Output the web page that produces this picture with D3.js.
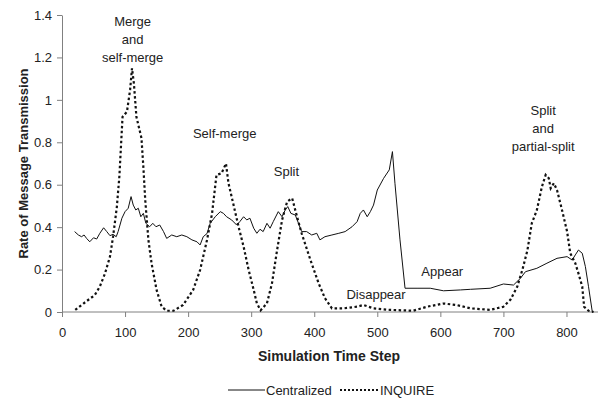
<!DOCTYPE html>
<html>
<head>
<meta charset="utf-8">
<script src="https://cdn.jsdelivr.net/npm/d3@7"></script>
<style>
  body { margin: 0; background: #fff; }
  svg text { font-family: Arial, "Liberation Sans", sans-serif; fill: #222; }
  .axis path, .axis line { stroke: #808080; }
  .axis text { font-size: 13px; }
  .note { font-size: 13px; }
</style>
</head>
<body>
<div id="chart"></div>
<script>
// Centralized (solid): [time step, rate]
var centralized = [
  [20, 0.379], [26, 0.363], [31, 0.355], [35, 0.363], [39, 0.347], [44, 0.331], [50, 0.35],
  [55, 0.344], [60, 0.371], [66, 0.397], [71, 0.379], [76, 0.36], [81, 0.366], [86, 0.355],
  [89, 0.379], [95, 0.442], [100, 0.473], [105, 0.489], [109.5, 0.544], [113, 0.504],
  [117, 0.481], [121, 0.489], [125, 0.449], [129, 0.465], [133, 0.418], [139, 0.402],
  [144, 0.418], [149, 0.402], [155, 0.41], [161, 0.379], [166, 0.347], [174, 0.363],
  [182, 0.355], [190, 0.363], [198, 0.355], [206, 0.34], [214, 0.331], [219, 0.316],
  [224, 0.355], [230, 0.37], [235, 0.418], [243, 0.449], [251, 0.473], [256, 0.465],
  [261, 0.449], [269, 0.434], [277, 0.41], [282, 0.426], [288, 0.449], [293, 0.434],
  [298, 0.442], [304, 0.395], [309, 0.371], [314, 0.39], [319, 0.379], [325, 0.418],
  [330, 0.395], [335, 0.426], [343, 0.473], [349, 0.449], [354, 0.481], [358, 0.497],
  [363, 0.465], [370, 0.457], [375, 0.418], [380, 0.379], [388, 0.379], [396, 0.363],
  [404, 0.371], [409, 0.34], [417, 0.355], [428, 0.363], [439, 0.371], [449, 0.379],
  [460, 0.402], [468, 0.426], [473, 0.465], [478, 0.481], [484, 0.449], [489, 0.473],
  [494, 0.504], [500, 0.575], [510, 0.63], [519, 0.67], [524, 0.756], [528, 0.607],
  [536, 0.34], [544, 0.112], [563, 0.112], [584, 0.112], [605, 0.10], [632, 0.104],
  [648, 0.107], [679, 0.112], [700, 0.132], [716, 0.127], [727, 0.159], [735, 0.19],
  [753, 0.206], [769, 0.23], [785, 0.253], [801, 0.261], [809, 0.245], [814, 0.269],
  [819, 0.292], [825, 0.277], [830, 0.214], [835, 0.119], [841, 0]
];

// INQUIRE (dotted): [time step, rate]
var inquire = [
  [21, 0.01], [34, 0.04], [52, 0.08], [60, 0.12], [68, 0.18], [76, 0.26], [81, 0.355],
  [87, 0.496], [91, 0.64], [96, 0.92], [103, 0.944], [108, 1.047], [111, 1.149], [114, 1.078],
  [118, 0.92], [126, 0.82], [129, 0.685], [132, 0.528], [137, 0.34], [142, 0.23],
  [150, 0.104], [158, 0.025], [166, 0.006], [177, 0.006], [192, 0.033], [208, 0.104],
  [219, 0.198], [230, 0.34], [238, 0.465], [245, 0.646], [253, 0.654], [260, 0.70],
  [264, 0.607], [272, 0.505], [280, 0.402], [288, 0.308], [296, 0.198], [304, 0.104],
  [309, 0.041], [315, 0.008], [325, 0.041], [333, 0.135], [341, 0.29], [349, 0.434],
  [357, 0.52], [365, 0.536], [372, 0.457], [380, 0.371], [394, 0.245], [407, 0.135],
  [417, 0.065], [428, 0.017], [446, 0.017], [468, 0.025], [478, 0.033], [494, 0.017],
  [520, 0.01], [557, 0.006], [579, 0.025], [605, 0.04], [626, 0.033], [648, 0.017],
  [679, 0.01], [700, 0.025], [711, 0.057], [722, 0.12], [730, 0.198], [738, 0.29],
  [745, 0.418], [753, 0.48], [761, 0.59], [767, 0.646], [772, 0.63], [775, 0.583],
  [780, 0.607], [785, 0.575], [793, 0.48], [801, 0.379], [806, 0.277], [814, 0.23],
  [819, 0.182], [825, 0.12], [828, 0.025], [835, 0.006], [843, 0]
];

var xTicks = [0, 100, 200, 300, 400, 500, 600, 700, 800];
var yTicks = [0, 0.2, 0.4, 0.6, 0.8, 1, 1.2, 1.4];

// event labels: [time step, rate, lines]
var notes = [
  [112, 1.35, ["Merge", "and", "self-merge"]],
  [258, 0.82, ["Self-merge"]],
  [356, 0.64, ["Split"]],
  [498, 0.06, ["Disappear"]],
  [603, 0.17, ["Appear"]],
  [763, 0.93, ["Split", "and", "partial-split"]]
];

var width = 601, height = 401;
var margin = { top: 15, right: 3, bottom: 89, left: 62 };

var svg = d3.select("#chart").append("svg")
  .attr("width", width).attr("height", height);

var x = d3.scaleLinear().domain([0, 850]).range([margin.left, width - margin.right]);
var y = d3.scaleLinear().domain([0, 1.4]).range([height - margin.bottom, margin.top]);

svg.append("g").attr("class", "axis")
  .attr("transform", "translate(0," + y(0) + ")")
  .call(d3.axisBottom(x).tickValues(xTicks).tickSize(5).tickSizeOuter(0).tickPadding(11))
  .call(function (g) { g.select(".domain").attr("d", "M" + x(0) + ",0H" + x(850)); });

svg.append("g").attr("class", "axis")
  .attr("transform", "translate(" + x(0) + ",0)")
  .call(d3.axisLeft(y).tickValues(yTicks).tickSize(5).tickSizeOuter(0).tickPadding(5)
    .tickFormat(function (d) { return d3.format("")(+d.toFixed(1)); }));

svg.selectAll(".axis text").attr("fill", "#222");

var line = d3.line()
  .x(function (d) { return x(d[0]); })
  .y(function (d) { return y(d[1]); });

svg.append("path").datum(centralized)
  .attr("d", line).attr("fill", "none")
  .attr("stroke", "#111").attr("stroke-width", 1);

svg.append("path").datum(inquire)
  .attr("d", line).attr("fill", "none")
  .attr("stroke", "#111").attr("stroke-width", 2.2)
  .attr("stroke-dasharray", "2.5,2.5");

// event labels
notes.forEach(function (n) {
  var t = svg.append("text").attr("class", "note")
    .attr("text-anchor", "middle")
    .attr("x", x(n[0])).attr("y", y(n[1]));
  n[2].forEach(function (s, i) {
    t.append("tspan").attr("x", x(n[0])).attr("dy", i === 0 ? 0 : 18).text(s);
  });
});

// axis titles
svg.append("text")
  .attr("text-anchor", "middle")
  .style("font-size", "14px").style("font-weight", "bold")
  .attr("x", 329).attr("y", 361)
  .text("Simulation Time Step");

svg.append("text")
  .attr("text-anchor", "middle")
  .style("font-size", "13px").style("font-weight", "bold")
  .attr("transform", "translate(28," + ((y(0) + y(1.4)) / 2) + ") rotate(-90)")
  .text("Rate of Message Transmission");

// legend
var legend = svg.append("g").attr("transform", "translate(228,390)");
var series = [
  { name: "Centralized", dash: null, w: 1, x0: 0, x1: 37, tx: 38 },
  { name: "INQUIRE", dash: "2,2", w: 2, x0: 112, x1: 150, tx: 152 }
];
series.forEach(function (s) {
  legend.append("line")
    .attr("x1", s.x0).attr("x2", s.x1).attr("y1", 0).attr("y2", 0)
    .attr("stroke", "#111").attr("stroke-width", s.w)
    .attr("stroke-dasharray", s.dash);
  legend.append("text").attr("x", s.tx).attr("y", 5)
    .style("font-size", "13px").text(s.name);
});
</script>
</body>
</html>
